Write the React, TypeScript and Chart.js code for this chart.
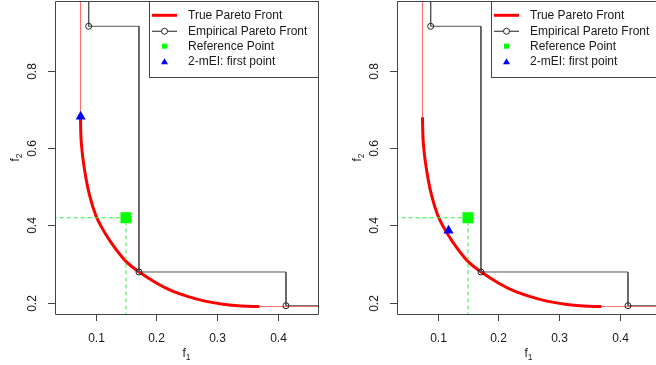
import React, { useEffect, useRef } from 'react';
import { Chart, registerables } from 'chart.js';

Chart.register(...registerables);

// ---- axis ranges & ticks ----
const X_MIN = 0.033;
const X_MAX = 0.4665;
const Y_MIN = 0.1707;
const Y_MAX = 0.9813;
const xTicks = [0.1, 0.2, 0.3, 0.4];
const xTickLabels = ['0.1', '0.2', '0.3', '0.4'];
const yTicks = [0.2, 0.4, 0.6, 0.8];
const yTickLabels = ['0.2', '0.4', '0.6', '0.8'];

// ---- true Pareto front ----
const trueFrontF1 = [0.075, 0.0755, 0.077, 0.08, 0.085, 0.09, 0.1, 0.11, 0.125, 0.15, 0.175, 0.2, 0.225, 0.25, 0.28, 0.31, 0.34, 0.37];
const trueFrontF2 = [0.68, 0.64, 0.603, 0.562, 0.514, 0.478, 0.427, 0.395, 0.357, 0.307, 0.276, 0.251, 0.231, 0.217, 0.204, 0.196, 0.1915, 0.19];

// ---- empirical Pareto front ----
const empiricalF1 = [0.0885, 0.1714, 0.4137];
const empiricalF2 = [0.9158, 0.2795, 0.1922];

// ---- reference point ----
const refPointF1 = [0.15];
const refPointF2 = [0.42];

// ---- 2-mEI first point, one per panel ----
const firstPointF1 = [0.0753, 0.118];
const firstPointF2 = [0.682, 0.387];

const legendLabels = ['True Pareto Front', 'Empirical Pareto Front', 'Reference Point', '2-mEI: first point'];
const xTitle = ['f', '1'];
const yTitle = ['f', '2'];

const FONT = '"Liberation Sans", Arial, Helvetica, sans-serif';
const TARGET_TOP = 1;

const rAxesPlugin = {
  id: 'rAxes',
  afterDraw(chart: any) {
    const ctx = chart.ctx as CanvasRenderingContext2D;
    const a = chart.chartArea;
    const xs = chart.scales.x;
    const ys = chart.scales.y;
    ctx.save();
    ctx.strokeStyle = '#444';
    ctx.lineWidth = 1;
    // box
    ctx.beginPath();
    ctx.rect(Math.round(a.left) + 0.5, Math.round(a.top) + 0.5, Math.round(a.right - a.left), Math.round(a.bottom - a.top));
    ctx.stroke();
    // x ticks
    ctx.fillStyle = '#1a1a1a';
    ctx.font = `12px ${FONT}`;
    ctx.textAlign = 'center';
    ctx.textBaseline = 'alphabetic';
    xTicks.forEach((v, i) => {
      const px = Math.round(xs.getPixelForValue(v)) + 0.5;
      ctx.beginPath();
      ctx.moveTo(px, a.bottom);
      ctx.lineTo(px, a.bottom + 7);
      ctx.stroke();
      ctx.fillText(xTickLabels[i], px, a.bottom + 27.7);
    });
    // y ticks
    yTicks.forEach((v, i) => {
      const py = Math.round(ys.getPixelForValue(v)) + 0.5;
      ctx.beginPath();
      ctx.moveTo(a.left - 7, py);
      ctx.lineTo(a.left, py);
      ctx.stroke();
      ctx.save();
      ctx.translate(a.left - 19.5, py);
      ctx.rotate(-Math.PI / 2);
      ctx.fillText(yTickLabels[i], 0, 0);
      ctx.restore();
    });
    // x title
    const cx = (a.left + a.right) / 2;
    ctx.textAlign = 'left';
    ctx.font = `12px ${FONT}`;
    const fw = ctx.measureText(xTitle[0]).width;
    ctx.font = `8.5px ${FONT}`;
    const sw = ctx.measureText(xTitle[1]).width;
    const x0 = cx - (fw + sw) / 2;
    ctx.font = `12px ${FONT}`;
    ctx.fillText(xTitle[0], x0, a.bottom + 42.7);
    ctx.font = `8.5px ${FONT}`;
    ctx.fillText(xTitle[1], x0 + fw, a.bottom + 45.5);
    // y title
    const cy = (a.top + a.bottom) / 2;
    ctx.save();
    ctx.translate(a.left - 36, cy);
    ctx.rotate(-Math.PI / 2);
    ctx.font = `12px ${FONT}`;
    const fw2 = ctx.measureText(yTitle[0]).width;
    ctx.font = `8.5px ${FONT}`;
    const sw2 = ctx.measureText(yTitle[1]).width;
    const y0 = -(fw2 + sw2) / 2;
    ctx.font = `12px ${FONT}`;
    ctx.fillText(yTitle[0], y0, 0);
    ctx.font = `8.5px ${FONT}`;
    ctx.fillText(yTitle[1], y0 + fw2, 2.8);
    ctx.restore();

    // legend (R style, top-right inside the box)
    const lx = Math.round(a.left + 94) + 0.5;
    const ly = Math.round(a.top) + 0.5;
    const lr = Math.round(a.right) + 0.5;
    const lb = Math.round(a.top + 75.5) + 0.5;
    ctx.fillStyle = '#ffffff';
    ctx.fillRect(lx, ly, lr - lx, lb - ly);
    ctx.strokeStyle = '#444';
    ctx.lineWidth = 1;
    ctx.strokeRect(lx, ly, lr - lx, lb - ly);
    const symX = lx + 15;
    legendLabels.forEach((lab, i) => {
      const ry = a.top + 14.3 + i * 15.45;
      if (i === 0) {
        ctx.strokeStyle = '#ff0000';
        ctx.lineWidth = 3;
        ctx.beginPath();
        ctx.moveTo(lx + 2.5, ry);
        ctx.lineTo(lx + 27.5, ry);
        ctx.stroke();
      } else if (i === 1) {
        ctx.strokeStyle = '#222';
        ctx.lineWidth = 1;
        ctx.beginPath();
        ctx.moveTo(lx + 2.5, ry + 0.5);
        ctx.lineTo(symX - 3, ry + 0.5);
        ctx.moveTo(symX + 3, ry + 0.5);
        ctx.lineTo(lx + 27.5, ry + 0.5);
        ctx.stroke();
        ctx.beginPath();
        ctx.arc(symX, ry + 0.5, 3, 0, Math.PI * 2);
        ctx.stroke();
      } else if (i === 2) {
        ctx.fillStyle = '#00ff00';
        ctx.fillRect(symX - 2.5, ry - 2.5, 5, 5);
      } else {
        ctx.fillStyle = '#0000ff';
        ctx.beginPath();
        ctx.moveTo(symX, ry - 3.5);
        ctx.lineTo(symX + 3.5, ry + 2.5);
        ctx.lineTo(symX - 3.5, ry + 2.5);
        ctx.closePath();
        ctx.fill();
      }
      ctx.fillStyle = '#1a1a1a';
      ctx.font = `12px ${FONT}`;
      ctx.textAlign = 'left';
      ctx.textBaseline = 'middle';
      ctx.fillText(lab, lx + 38.5, ry + 0.5);
    });
    ctx.restore();
  },
};

function buildChart(canvas: HTMLCanvasElement, panel: number, topPad: number) {
  const curve = trueFrontF1.map((x, i) => ({ x, y: trueFrontF2[i] }));
  const n = trueFrontF1.length;
  const thinTop = [
    { x: trueFrontF1[0], y: Y_MAX + 0.5 },
    { x: trueFrontF1[0], y: trueFrontF2[0] },
  ];
  const thinRight = [
    { x: trueFrontF1[n - 1], y: trueFrontF2[n - 1] },
    { x: X_MAX + 0.5, y: trueFrontF2[n - 1] },
  ];
  const stairs: { x: number; y: number }[] = [{ x: empiricalF1[0], y: Y_MAX + 0.5 }];
  empiricalF1.forEach((x, i) => {
    stairs.push({ x, y: empiricalF2[i] });
    const nx = i + 1 < empiricalF1.length ? empiricalF1[i + 1] : X_MAX + 0.5;
    stairs.push({ x: nx, y: empiricalF2[i] });
  });
  const circles = empiricalF1.map((x, i) => ({ x, y: empiricalF2[i] }));
  const dashed = [
    { x: X_MIN - 0.5, y: refPointF2[0] },
    { x: refPointF1[0], y: refPointF2[0] },
    { x: refPointF1[0], y: Y_MIN - 0.5 },
  ];
  const refPt = refPointF1.map((x, i) => ({ x, y: refPointF2[i] }));
  const firstPt = [{ x: firstPointF1[panel], y: firstPointF2[panel] }];

  return new Chart(canvas, {
    type: 'scatter',
    data: {
      datasets: [
        { data: firstPt, pointStyle: 'triangle', pointRadius: 5.8, backgroundColor: '#0000ff', borderColor: '#0000ff', borderWidth: 0, order: 0 } as any,
        { data: refPt, pointStyle: 'rect', pointRadius: 7.8, backgroundColor: '#00ff00', borderColor: '#00ff00', borderWidth: 0, order: 1 } as any,
        { data: circles, pointStyle: 'circle', pointRadius: 3, backgroundColor: 'rgba(0,0,0,0)', borderColor: '#222', borderWidth: 1, order: 2 } as any,
        { data: stairs, showLine: true, pointRadius: 0, borderColor: '#555', borderWidth: 1, clip: 0, order: 3 } as any,
        { data: dashed, showLine: true, pointRadius: 0, borderColor: '#33ee33', borderWidth: 1, borderDash: [4, 3], clip: 0, order: 4 } as any,
        { data: curve, showLine: true, pointRadius: 0, borderColor: '#ff0000', borderWidth: 3, cubicInterpolationMode: 'monotone', clip: 0, order: 5 } as any,
        { data: thinTop, showLine: true, pointRadius: 0, borderColor: '#ff7070', borderWidth: 1, clip: 0, order: 6 } as any,
        { data: thinRight, showLine: true, pointRadius: 0, borderColor: '#ff7070', borderWidth: 1, clip: 0, order: 7 } as any,
      ],
    },
    options: {
      animation: false,
      responsive: false,
      devicePixelRatio: 1,
      events: [],
      layout: { autoPadding: false, padding: { left: 55, right: 12, top: topPad, bottom: 51 } },
      plugins: { legend: { display: false }, tooltip: { enabled: false }, title: { display: false } },
      scales: {
        x: { type: 'linear', min: X_MIN, max: X_MAX, display: false },
        y: { type: 'linear', min: Y_MIN, max: Y_MAX, display: false },
      },
    },
    plugins: [rAxesPlugin],
  } as any);
}

function makeChart(canvas: HTMLCanvasElement, panel: number) {
  let ch = buildChart(canvas, panel, TARGET_TOP);
  const diff = ch.chartArea.top - TARGET_TOP;
  if (Math.abs(diff) > 0.5) {
    ch.destroy();
    ch = buildChart(canvas, panel, TARGET_TOP - diff);
  }
  return ch;
}

export default function App() {
  const leftRef = useRef<HTMLCanvasElement>(null);
  const rightRef = useRef<HTMLCanvasElement>(null);
  useEffect(() => {
    const c1 = makeChart(leftRef.current!, 0);
    const c2 = makeChart(rightRef.current!, 1);
    return () => {
      c1.destroy();
      c2.destroy();
    };
  }, []);
  return (
    <div style={{ position: 'fixed', left: 0, top: 0, width: 656, height: 365, overflow: 'hidden', background: '#fff' }}>
      <canvas ref={leftRef} width={330} height={365} style={{ position: 'absolute', left: 0, top: 0, width: 330, height: 365 }} />
      <canvas ref={rightRef} width={330} height={365} style={{ position: 'absolute', left: 342, top: 0, width: 330, height: 365 }} />
    </div>
  );
}
